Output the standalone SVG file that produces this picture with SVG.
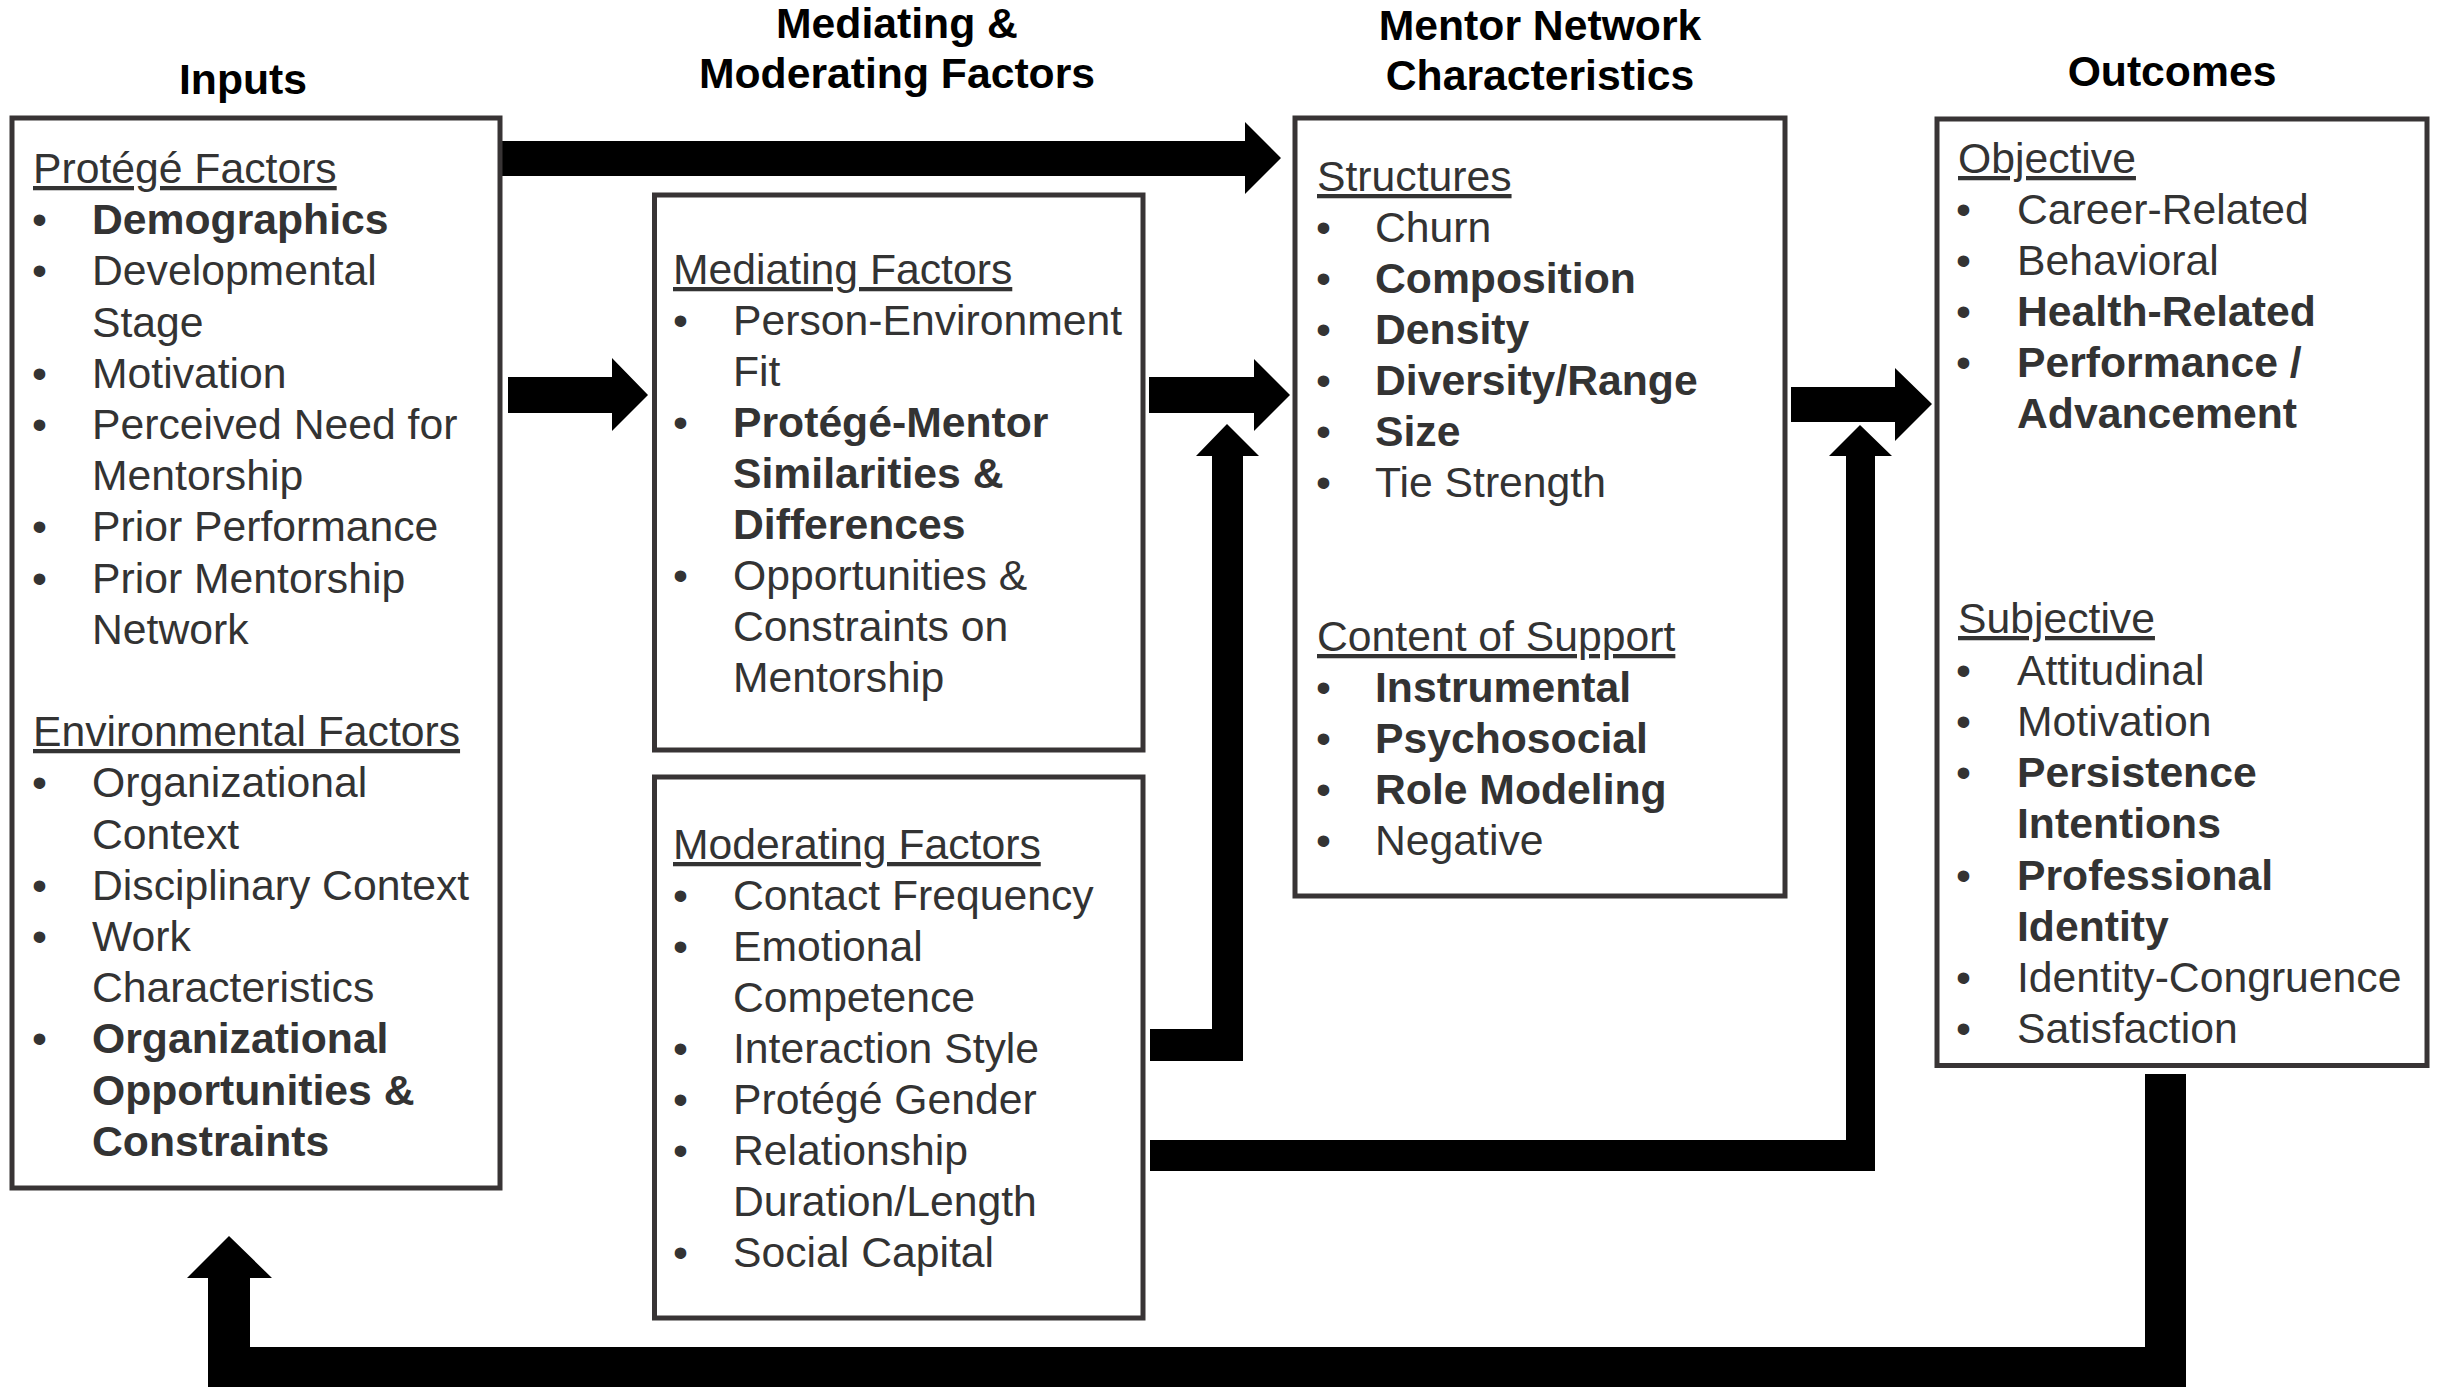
<svg xmlns="http://www.w3.org/2000/svg" width="2440" height="1387" viewBox="0 0 2440 1387">
<style>
.box{fill:#fff;stroke:#383435;stroke-width:5}
text{font-family:"Liberation Sans",Arial,Helvetica,sans-serif;font-size:42.7px;fill:#333}
.t{font-weight:bold;fill:#000;text-anchor:middle}
.h{text-decoration:underline}
.b{font-weight:bold}
.arr{fill:#000}
</style>
<rect width="2440" height="1387" fill="#fff"/>
<g id="titles">
<text class="t" x="243" y="94">Inputs</text>
<text class="t" x="897" y="38">Mediating &amp;</text>
<text class="t" x="897" y="88">Moderating Factors</text>
<text class="t" x="1540" y="40">Mentor Network</text>
<text class="t" x="1540" y="90">Characteristics</text>
<text class="t" x="2172" y="86">Outcomes</text>
</g>
<g id="connectors">
<polygon class="arr" points="499,141 1245,141 1245,122 1281,158 1245,194 1245,176 499,176"/>
<polygon class="arr" points="508,377 612,377 612,358 648,395 612,431 612,413 508,413"/>
<polygon class="arr" points="1149,377 1254,377 1254,359 1290,395 1254,431 1254,413 1149,413"/>
<polygon class="arr" points="1791,387 1895,387 1895,368 1932,404 1895,441 1895,422 1791,422"/>
<polygon class="arr" points="1150,1029 1212,1029 1212,456 1196,456 1227,424 1259,456 1243,456 1243,1061 1150,1061"/>
<polygon class="arr" points="1150,1140 1846,1140 1846,456 1829,456 1860,425 1892,456 1875,456 1875,1171 1150,1171"/>
<polygon class="arr" points="2145,1074 2186,1074 2186,1392 208,1392 208,1278 187,1278 229,1236 272,1278 250,1278 250,1347 2145,1347"/>
</g>
<g id="inputs">
<rect class="box" x="12" y="118" width="488" height="1070"/>
<text class="h" x="33" y="183">Protégé Factors</text>
<text x="32" y="234">•</text><text class="b" x="92" y="234">Demographics</text>
<text x="32" y="285">•</text><text x="92" y="285">Developmental</text>
<text x="92" y="337">Stage</text>
<text x="32" y="388">•</text><text x="92" y="388">Motivation</text>
<text x="32" y="439">•</text><text x="92" y="439">Perceived Need for</text>
<text x="92" y="490">Mentorship</text>
<text x="32" y="541">•</text><text x="92" y="541">Prior Performance</text>
<text x="32" y="593">•</text><text x="92" y="593">Prior Mentorship</text>
<text x="92" y="644">Network</text>
<text class="h" x="33" y="746">Environmental Factors</text>
<text x="32" y="797">•</text><text x="92" y="797">Organizational</text>
<text x="92" y="849">Context</text>
<text x="32" y="900">•</text><text x="92" y="900">Disciplinary Context</text>
<text x="32" y="951">•</text><text x="92" y="951">Work</text>
<text x="92" y="1002">Characteristics</text>
<text x="32" y="1053">•</text><text class="b" x="92" y="1053">Organizational</text>
<text class="b" x="92" y="1105">Opportunities &amp;</text>
<text class="b" x="92" y="1156">Constraints</text>
</g>
<g id="mediating">
<rect class="box" x="654.5" y="195" width="488.5" height="555"/>
<text class="h" x="673" y="284">Mediating Factors</text>
<text x="673" y="335">•</text><text x="733" y="335">Person-Environment</text>
<text x="733" y="386">Fit</text>
<text x="673" y="437">•</text><text class="b" x="733" y="437">Protégé-Mentor</text>
<text class="b" x="733" y="488">Similarities &amp;</text>
<text class="b" x="733" y="539">Differences</text>
<text x="673" y="590">•</text><text x="733" y="590">Opportunities &amp;</text>
<text x="733" y="641">Constraints on</text>
<text x="733" y="692">Mentorship</text>
</g>
<g id="moderating">
<rect class="box" x="654.5" y="777" width="488.5" height="541"/>
<text class="h" x="673" y="859">Moderating Factors</text>
<text x="673" y="910">•</text><text x="733" y="910">Contact Frequency</text>
<text x="673" y="961">•</text><text x="733" y="961">Emotional</text>
<text x="733" y="1012">Competence</text>
<text x="673" y="1063">•</text><text x="733" y="1063">Interaction Style</text>
<text x="673" y="1114">•</text><text x="733" y="1114">Protégé Gender</text>
<text x="673" y="1165">•</text><text x="733" y="1165">Relationship</text>
<text x="733" y="1216">Duration/Length</text>
<text x="673" y="1267">•</text><text x="733" y="1267">Social Capital</text>
</g>
<g id="mentor-network">
<rect class="box" x="1295" y="118" width="490" height="778"/>
<text class="h" x="1317" y="191">Structures</text>
<text x="1316" y="242">•</text><text x="1375" y="242">Churn</text>
<text x="1316" y="293">•</text><text class="b" x="1375" y="293">Composition</text>
<text x="1316" y="344">•</text><text class="b" x="1375" y="344">Density</text>
<text x="1316" y="395">•</text><text class="b" x="1375" y="395">Diversity/Range</text>
<text x="1316" y="446">•</text><text class="b" x="1375" y="446">Size</text>
<text x="1316" y="497">•</text><text x="1375" y="497">Tie Strength</text>
<text class="h" x="1317" y="651">Content of Support</text>
<text x="1316" y="702">•</text><text class="b" x="1375" y="702">Instrumental</text>
<text x="1316" y="753">•</text><text class="b" x="1375" y="753">Psychosocial</text>
<text x="1316" y="804">•</text><text class="b" x="1375" y="804">Role Modeling</text>
<text x="1316" y="855">•</text><text x="1375" y="855">Negative</text>
</g>
<g id="outcomes">
<rect class="box" x="1937" y="119" width="490" height="946.5"/>
<text class="h" x="1958" y="173">Objective</text>
<text x="1956" y="224">•</text><text x="2017" y="224">Career-Related</text>
<text x="1956" y="275">•</text><text x="2017" y="275">Behavioral</text>
<text x="1956" y="326">•</text><text class="b" x="2017" y="326">Health-Related</text>
<text x="1956" y="377">•</text><text class="b" x="2017" y="377">Performance /</text>
<text class="b" x="2017" y="428">Advancement</text>
<text class="h" x="1958" y="633">Subjective</text>
<text x="1956" y="685">•</text><text x="2017" y="685">Attitudinal</text>
<text x="1956" y="736">•</text><text x="2017" y="736">Motivation</text>
<text x="1956" y="787">•</text><text class="b" x="2017" y="787">Persistence</text>
<text class="b" x="2017" y="838">Intentions</text>
<text x="1956" y="890">•</text><text class="b" x="2017" y="890">Professional</text>
<text class="b" x="2017" y="941">Identity</text>
<text x="1956" y="992">•</text><text x="2017" y="992">Identity-Congruence</text>
<text x="1956" y="1043">•</text><text x="2017" y="1043">Satisfaction</text>
</g>
</svg>
